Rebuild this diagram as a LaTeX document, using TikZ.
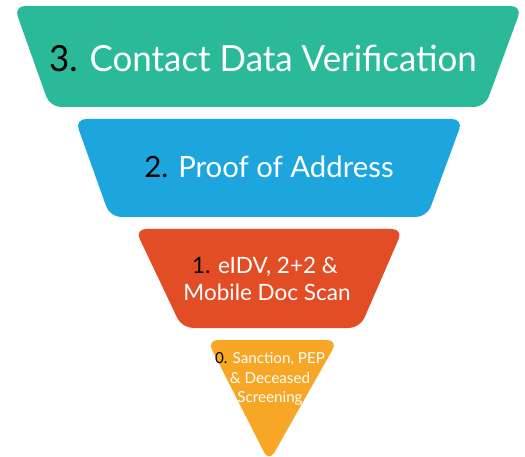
\documentclass[tikz,border=0pt]{standalone}
\usepackage{fontspec}
\setmainfont{Lato}
\definecolor{cgreen}{RGB}{42,185,153}
\definecolor{cblue}{RGB}{29,166,222}
\definecolor{corange}{RGB}{227,77,38}
\definecolor{cyellow}{RGB}{247,167,37}
\begin{document}
\begin{tikzpicture}[x=1pt,y=-1pt,
  lbl/.style={text=white,inner sep=0pt,anchor=base}]
\useasboundingbox (0,0) rectangle (525,457);
\fill[cgreen, rounded corners=11pt] (14,6) -- (522,6) -- (485,107) -- (50,107) -- cycle;
\fill[cblue, rounded corners=11pt] (75,119) -- (463,119) -- (427,217) -- (110,217) -- cycle;
\fill[corange, rounded corners=11pt] (135,229) -- (403,229) -- (360,328) -- (182,328) -- cycle;
\fill[cyellow, rounded corners=11pt] (207,340) -- (338,340) -- (269,462) -- cycle;
\node[lbl, font=\fontsize{36}{42}\selectfont] (t3) at (263,72) {\scalebox{0.97}[1]{\textcolor{black}{3.} Contact Data Verification}};
\node[lbl, font=\fontsize{29.3}{36}\selectfont] (t2) at (269,178) {\textcolor{black}{2.} Proof of Address};
\node[lbl, font=\fontsize{22.5}{28}\selectfont] (t1a) at (265,274) {\textcolor{black}{1.} eIDV, 2+2 \&};
\node[lbl, font=\fontsize{22.5}{28}\selectfont] (t1b) at (267,301) {Mobile Doc Scan};
\node[lbl, font=\fontsize{15.2}{20}\selectfont] (t0a) at (270,363) {\textcolor{black}{0.} Sanction, PEP};
\node[lbl, font=\fontsize{15.2}{20}\selectfont] (t0b) at (270,383) {\& Deceased};
\node[lbl, font=\fontsize{15.2}{20}\selectfont] (t0c) at (270,402) {Screening};
\end{tikzpicture}
\end{document}
